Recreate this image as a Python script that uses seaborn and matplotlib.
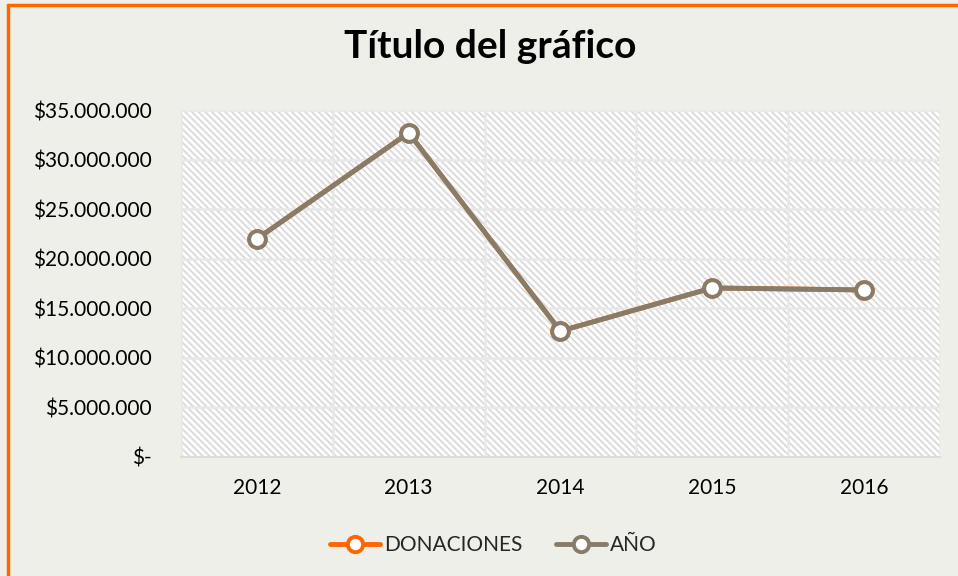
import pandas as pd
import matplotlib.pyplot as plt
import matplotlib.ticker as mticker
from matplotlib.lines import Line2D
from matplotlib.patches import Rectangle
import seaborn as sns

# datos
anios = ['2012', '2013', '2014', '2015', '2016']
donaciones = [22000000, 32700000, 12700000, 17050000, 16850000]
anio_serie = [22000000, 32700000, 12700000, 17050000, 16850000]
series = ['DONACIONES', 'AÑO']
colores = ['#FF6600', '#877C6A']

df = pd.concat([
    pd.DataFrame({'Año': anios, 'Valor': donaciones, 'Serie': series[0]}),
    pd.DataFrame({'Año': anios, 'Valor': anio_serie, 'Serie': series[1]}),
])

sns.set_theme(style='white')
plt.rcParams['font.family'] = ['Lato', 'DejaVu Sans']
plt.rcParams['hatch.linewidth'] = 1.3

fondo = '#EFEFEA'
fig = plt.figure(figsize=(9.58, 5.76), dpi=100, facecolor=fondo)
ax = fig.add_axes([0.189, 0.2066, 0.792, 0.6024])
ax.set_facecolor('white')

# trama del area de trazado
ax.add_patch(Rectangle((0, 0), 1, 1, transform=ax.transAxes, facecolor='white',
                       edgecolor='#dadada', hatch='\\\\\\\\\\', linewidth=0, zorder=0))

sns.lineplot(data=df, x='Año', y='Valor', hue='Serie', palette=colores,
             marker='o', markersize=12, linewidth=3.5, sort=False,
             legend=False, ax=ax, zorder=3)
for ln, c in zip(ax.lines, colores):
    ln.set_markerfacecolor('white')
    ln.set_markeredgecolor(c)
    ln.set_markeredgewidth(2.8)

ax.set_xlim(-0.5, len(anios) - 0.5)
ax.set_ylim(0, 35000000)
ax.yaxis.set_major_locator(mticker.MultipleLocator(5000000))


def fmt(v, pos):
    if v == 0:
        return '$-'
    return '$' + f'{int(v):,}'.replace(',', '.')


ax.yaxis.set_major_formatter(mticker.FuncFormatter(fmt))
ax.set_xticks(range(len(anios)))
ax.set_xticks([i - 0.5 for i in range(len(anios) + 1)], minor=True)
ax.grid(True, axis='y', which='major', color='#e8e8e8', linewidth=1.8, zorder=1)
ax.grid(True, axis='x', which='minor', color='#e8e8e8', linewidth=1.8, zorder=1)
ax.grid(False, axis='x', which='major')
ax.set_axisbelow(True)
ax.tick_params(axis='both', which='both', length=0, labelsize=15, colors='#000000')
ax.tick_params(axis='x', pad=15)
ax.tick_params(axis='y', pad=21)
ax.set_xlabel('')
ax.set_ylabel('')
for s in ['top', 'left', 'right']:
    ax.spines[s].set_visible(False)
ax.spines['bottom'].set_color('#d9d9d9')
ax.spines['bottom'].set_linewidth(1.2)

fig.suptitle('Título del gráfico', x=0.512, y=0.95, fontsize=28, fontweight='bold',
             color='#000000')

handles = [Line2D([], [], color=c, linewidth=3.5, marker='o', markersize=11,
                  markerfacecolor='white', markeredgecolor=c, markeredgewidth=2.8)
           for c in colores]
fig.legend(handles, series, loc='center', bbox_to_anchor=(0.515, 0.054), ncol=2,
           frameon=False, fontsize=15, handlelength=2.4, handletextpad=0.2,
           columnspacing=1.6)

# borde naranja
fig.add_artist(Line2D([0.008, 1.0], [0.991, 0.991], color='#FF6600', linewidth=2.5))
fig.add_artist(Line2D([0.008, 0.008], [0.0, 0.991], color='#FF6600', linewidth=2.5))

fig.savefig('out.png', dpi=100, facecolor=fondo)
